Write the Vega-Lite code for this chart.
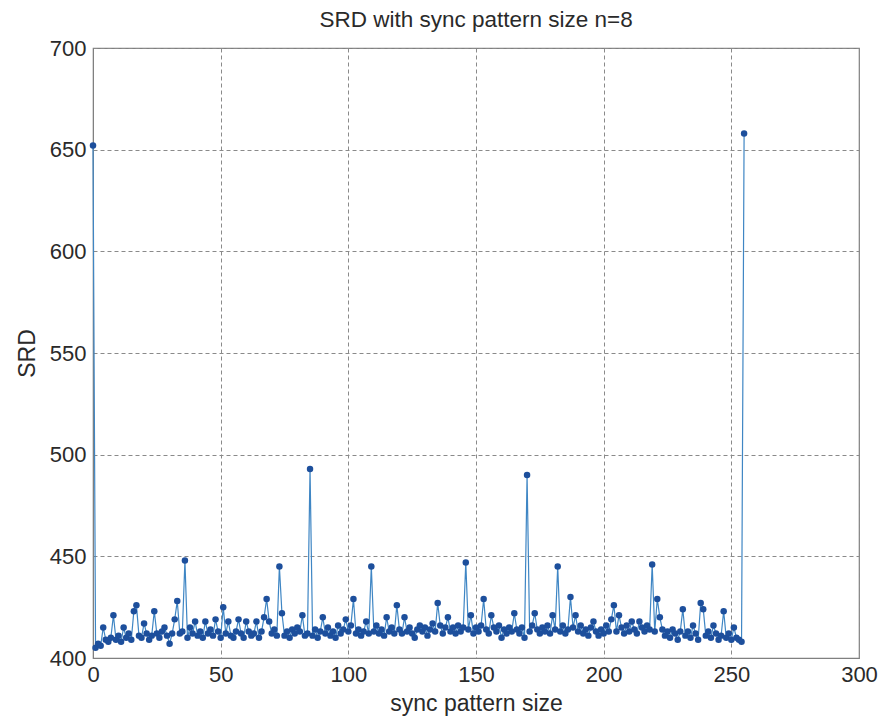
{
  "$schema": "https://vega.github.io/schema/vega-lite/v6.json",
  "width": 766,
  "height": 610,
  "autosize": {"type": "none"},
  "padding": {"left": 93, "top": 48, "right": 26, "bottom": 63},
  "background": "white",
  "title": {
    "text": "SRD with sync pattern size n=8",
    "font": "Liberation Sans",
    "fontSize": 22.5,
    "fontWeight": "normal",
    "color": "#2a2a2a",
    "offset": 6
  },
  "config": {
    "view": {"stroke": "#808080", "strokeWidth": 1.2},
    "axis": {
      "labelFont": "Liberation Sans",
      "labelFontSize": 22,
      "labelColor": "#2a2a2a",
      "titleFont": "Liberation Sans",
      "titleFontSize": 23,
      "titleFontWeight": "normal",
      "titleColor": "#2a2a2a",
      "gridColor": "#8a8a8a",
      "gridDash": [4, 3],
      "gridWidth": 1,
      "gridOpacity": 1,
      "domainColor": "#808080",
      "tickColor": "#808080",
      "ticks": false,
      "labelPadding": 6
    }
  },
  "data": {
    "values": [
      {"x":0,"y":652},{"x":1,"y":405},{"x":2,"y":407},{"x":3,"y":406},{"x":4,"y":415},{"x":5,"y":409},{"x":6,"y":408},{"x":7,"y":410},{"x":8,"y":421},{"x":9,"y":409},
      {"x":10,"y":411},{"x":11,"y":408},{"x":12,"y":415},{"x":13,"y":410},{"x":14,"y":412},{"x":15,"y":409},{"x":16,"y":423},{"x":17,"y":426},{"x":18,"y":411},{"x":19,"y":410},
      {"x":20,"y":417},{"x":21,"y":412},{"x":22,"y":409},{"x":23,"y":411},{"x":24,"y":423},{"x":25,"y":412},{"x":26,"y":410},{"x":27,"y":413},{"x":28,"y":415},{"x":29,"y":411},
      {"x":30,"y":407},{"x":31,"y":412},{"x":32,"y":419},{"x":33,"y":428},{"x":34,"y":412},{"x":35,"y":413},{"x":36,"y":448},{"x":37,"y":410},{"x":38,"y":415},{"x":39,"y":412},
      {"x":40,"y":418},{"x":41,"y":411},{"x":42,"y":413},{"x":43,"y":410},{"x":44,"y":418},{"x":45,"y":412},{"x":46,"y":414},{"x":47,"y":411},{"x":48,"y":419},{"x":49,"y":413},
      {"x":50,"y":410},{"x":51,"y":425},{"x":52,"y":412},{"x":53,"y":418},{"x":54,"y":411},{"x":55,"y":410},{"x":56,"y":413},{"x":57,"y":419},{"x":58,"y":412},{"x":59,"y":410},
      {"x":60,"y":418},{"x":61,"y":413},{"x":62,"y":411},{"x":63,"y":412},{"x":64,"y":418},{"x":65,"y":410},{"x":66,"y":413},{"x":67,"y":420},{"x":68,"y":429},{"x":69,"y":418},
      {"x":70,"y":412},{"x":71,"y":414},{"x":72,"y":411},{"x":73,"y":445},{"x":74,"y":422},{"x":75,"y":411},{"x":76,"y":413},{"x":77,"y":410},{"x":78,"y":414},{"x":79,"y":412},
      {"x":80,"y":415},{"x":81,"y":413},{"x":82,"y":421},{"x":83,"y":411},{"x":84,"y":412},{"x":85,"y":493},{"x":86,"y":411},{"x":87,"y":414},{"x":88,"y":410},{"x":89,"y":413},
      {"x":90,"y":420},{"x":91,"y":412},{"x":92,"y":415},{"x":93,"y":411},{"x":94,"y":413},{"x":95,"y":410},{"x":96,"y":416},{"x":97,"y":412},{"x":98,"y":414},{"x":99,"y":419},
      {"x":100,"y":413},{"x":101,"y":416},{"x":102,"y":429},{"x":103,"y":412},{"x":104,"y":414},{"x":105,"y":411},{"x":106,"y":413},{"x":107,"y":418},{"x":108,"y":412},{"x":109,"y":445},
      {"x":110,"y":413},{"x":111,"y":416},{"x":112,"y":412},{"x":113,"y":414},{"x":114,"y":411},{"x":115,"y":420},{"x":116,"y":413},{"x":117,"y":415},{"x":118,"y":412},{"x":119,"y":426},
      {"x":120,"y":414},{"x":121,"y":412},{"x":122,"y":420},{"x":123,"y":413},{"x":124,"y":415},{"x":125,"y":412},{"x":126,"y":410},{"x":127,"y":414},{"x":128,"y":416},{"x":129,"y":413},
      {"x":130,"y":415},{"x":131,"y":411},{"x":132,"y":414},{"x":133,"y":417},{"x":134,"y":413},{"x":135,"y":427},{"x":136,"y":416},{"x":137,"y":412},{"x":138,"y":415},{"x":139,"y":420},
      {"x":140,"y":413},{"x":141,"y":415},{"x":142,"y":412},{"x":143,"y":416},{"x":144,"y":413},{"x":145,"y":415},{"x":146,"y":447},{"x":147,"y":414},{"x":148,"y":421},{"x":149,"y":412},
      {"x":150,"y":415},{"x":151,"y":413},{"x":152,"y":416},{"x":153,"y":429},{"x":154,"y":414},{"x":155,"y":412},{"x":156,"y":421},{"x":157,"y":415},{"x":158,"y":413},{"x":159,"y":416},
      {"x":160,"y":410},{"x":161,"y":414},{"x":162,"y":412},{"x":163,"y":415},{"x":164,"y":413},{"x":165,"y":422},{"x":166,"y":414},{"x":167,"y":412},{"x":168,"y":415},{"x":169,"y":410},
      {"x":170,"y":490},{"x":171,"y":413},{"x":172,"y":416},{"x":173,"y":422},{"x":174,"y":414},{"x":175,"y":412},{"x":176,"y":415},{"x":177,"y":413},{"x":178,"y":416},{"x":179,"y":412},
      {"x":180,"y":421},{"x":181,"y":414},{"x":182,"y":445},{"x":183,"y":413},{"x":184,"y":416},{"x":185,"y":412},{"x":186,"y":414},{"x":187,"y":430},{"x":188,"y":415},{"x":189,"y":421},
      {"x":190,"y":413},{"x":191,"y":416},{"x":192,"y":412},{"x":193,"y":414},{"x":194,"y":411},{"x":195,"y":415},{"x":196,"y":418},{"x":197,"y":413},{"x":198,"y":411},{"x":199,"y":414},
      {"x":200,"y":412},{"x":201,"y":416},{"x":202,"y":413},{"x":203,"y":419},{"x":204,"y":426},{"x":205,"y":413},{"x":206,"y":421},{"x":207,"y":415},{"x":208,"y":412},{"x":209,"y":416},
      {"x":210,"y":413},{"x":211,"y":418},{"x":212,"y":414},{"x":213,"y":412},{"x":214,"y":418},{"x":215,"y":415},{"x":216,"y":413},{"x":217,"y":416},{"x":218,"y":414},{"x":219,"y":446},
      {"x":220,"y":413},{"x":221,"y":429},{"x":222,"y":420},{"x":223,"y":414},{"x":224,"y":411},{"x":225,"y":413},{"x":226,"y":410},{"x":227,"y":414},{"x":228,"y":412},{"x":229,"y":409},
      {"x":230,"y":413},{"x":231,"y":424},{"x":232,"y":411},{"x":233,"y":413},{"x":234,"y":410},{"x":235,"y":416},{"x":236,"y":412},{"x":237,"y":409},{"x":238,"y":427},{"x":239,"y":424},
      {"x":240,"y":411},{"x":241,"y":413},{"x":242,"y":410},{"x":243,"y":416},{"x":244,"y":412},{"x":245,"y":409},{"x":246,"y":411},{"x":247,"y":423},{"x":248,"y":410},{"x":249,"y":412},
      {"x":250,"y":409},{"x":251,"y":415},{"x":252,"y":410},{"x":253,"y":409},{"x":254,"y":408},{"x":255,"y":658}
    ]
  },
  "mark": {
    "type": "line",
    "color": "#3f86c4",
    "strokeWidth": 1.2,
    "point": {"filled": true, "color": "#1d4f9c", "size": 42, "opacity": 1}
  },
  "encoding": {
    "x": {
      "field": "x",
      "type": "quantitative",
      "title": "sync pattern size",
      "scale": {"domain": [0, 300], "nice": false},
      "axis": {"values": [0, 50, 100, 150, 200, 250, 300], "titlePadding": 7, "labelFlush": false}
    },
    "y": {
      "field": "y",
      "type": "quantitative",
      "title": "SRD",
      "scale": {"domain": [400, 700], "nice": false, "zero": false},
      "axis": {"values": [400, 450, 500, 550, 600, 650, 700], "titlePadding": 10, "labelFlush": false, "labelPadding": 7}
    }
  }
}
